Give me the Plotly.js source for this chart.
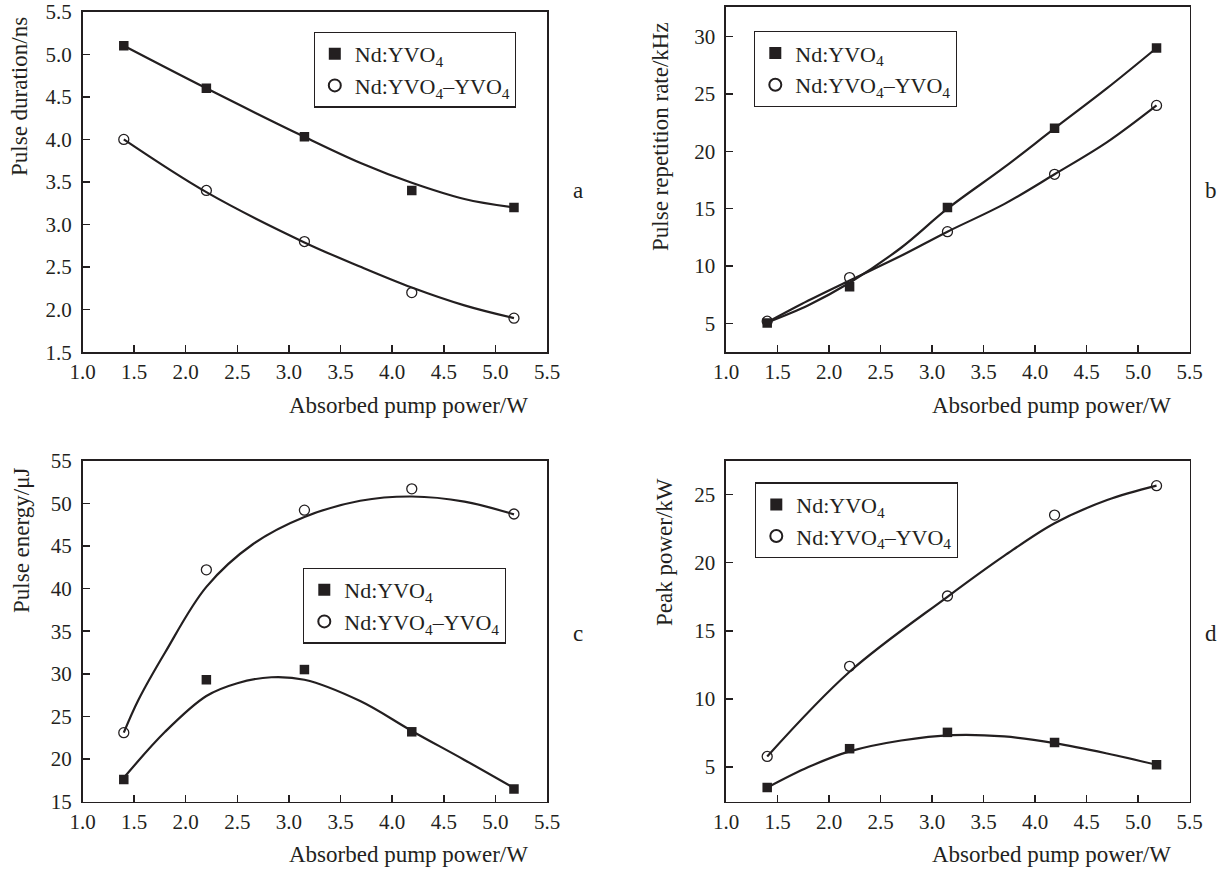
<!DOCTYPE html>
<html>
<head>
<meta charset="utf-8">
<script src="https://cdn.plot.ly/plotly-3.0.1.min.js"></script>
<style>html,body{margin:0;padding:0;background:#fff;}#chart{width:1230px;height:869px;}</style>
</head>
<body>
<div id="chart"></div>
<script>
// ---------- data ----------
const pumpPower = [1.4, 2.2, 3.15, 4.19, 5.18];

// (a) pulse duration, ns
const durYVO4 = [5.1, 4.6, 4.03, 3.4, 3.2];
const durComp = [4.0, 3.4, 2.8, 2.2, 1.9];
const durFitX = [1.4, 2.2, 3.15, 3.7, 4.19, 4.7, 5.18];
const durFitYVO4 = [5.1, 4.6, 4.03, 3.72, 3.49, 3.30, 3.2];
const durFitComp = [4.0, 3.38, 2.79, 2.5, 2.26, 2.05, 1.9];

// (b) pulse repetition rate, kHz
const repYVO4 = [5.05, 8.2, 15.1, 22.0, 29.0];
const repComp = [5.2, 9.0, 13.0, 18.0, 24.0];
const repFitX = [1.4, 1.8, 2.2, 2.7, 3.15, 3.7, 4.19, 4.7, 5.18];
const repFitYVO4 = [5.1, 6.6, 8.55, 11.6, 15.0, 18.6, 22.0, 25.5, 29.0];
const repFitComp = [5.1, 7.0, 8.75, 10.9, 13.0, 15.4, 18.0, 20.8, 24.0];

// (c) pulse energy, uJ
const enYVO4 = [17.6, 29.3, 30.5, 23.2, 16.5];
const enComp = [23.1, 42.2, 49.2, 51.7, 48.75];
const enFitXYVO4 = [1.4, 1.8, 2.2, 2.5, 2.83, 3.15, 3.69, 4.19, 4.7, 5.18];
const enFitYVO4 = [17.8, 23.2, 27.4, 28.9, 29.6, 29.3, 26.8, 23.3, 19.9, 16.6];
const enFitXComp = [1.4, 1.54, 1.8, 2.2, 2.65, 3.15, 3.69, 4.19, 4.7, 5.18];
const enFitComp = [23.1, 26.9, 32.5, 40.2, 45.2, 48.4, 50.3, 50.8, 50.2, 48.7];

// (d) peak power, kW
const pkYVO4 = [3.5, 6.35, 7.55, 6.8, 5.17];
const pkComp = [5.78, 12.4, 17.56, 23.5, 25.66];
const pkFitXYVO4 = [1.4, 1.8, 2.2, 2.7, 3.2, 3.7, 4.19, 4.7, 5.18];
const pkFitYVO4 = [3.49, 5.0, 6.15, 6.95, 7.35, 7.25, 6.76, 6.0, 5.17];
const pkFitXComp = [1.4, 2.2, 3.15, 3.7, 4.19, 4.7, 5.18];
const pkFitComp = [5.78, 12.0, 17.5, 20.5, 22.9, 24.6, 25.66];

const seriesNames = ['Nd:YVO<sub>4</sub>', 'Nd:YVO<sub>4</sub>–YVO<sub>4</sub>'];
const xTitle = 'Absorbed pump power/W';
const yTitles = ['Pulse duration/ns', 'Pulse repetition rate/kHz', 'Pulse energy/μJ', 'Peak power/kW'];
const panelLabels = ['a', 'b', 'c', 'd'];

// ---------- layout helpers ----------
const W = 1230, H = 869;
const INK = '#231f20';
const FONT = '"Liberation Serif", "Times New Roman", serif';
const px = v => v / W;
const py = v => 1 - v / H;

const panels = [
  {xa: 'x',  ya: 'y',  left: 82.5, right: 547,   top: 11.7, bottom: 352.2, yr: [1.5, 5.5],  ytick0: 1.5, ydt: 0.5, yfmt: '.1f',
   fitX1: durFitX, fit1: durFitYVO4, fitX2: durFitX, fit2: durFitComp, d1: durYVO4, d2: durComp,
   leg: {l: 313.5, t: 31.7}, ytitle: {x: 19, y: 97}, lab: {x: 578, y: 190}},
  {xa: 'x2', ya: 'y2', left: 726,  right: 1189.5, top: 6.7,  bottom: 352.2, yr: [2.5, 32.6], ytick0: 5, ydt: 5, yfmt: 'd',
   fitX1: repFitX, fit1: repFitYVO4, fitX2: repFitX, fit2: repFitComp, d1: repYVO4, d2: repComp,
   leg: {l: 754, t: 31}, ytitle: {x: 661, y: 137}, lab: {x: 1211, y: 190}},
  {xa: 'x3', ya: 'y3', left: 82.5, right: 547,   top: 460.7, bottom: 801.7, yr: [15, 55],   ytick0: 15, ydt: 5, yfmt: 'd',
   fitX1: enFitXYVO4, fit1: enFitYVO4, fitX2: enFitXComp, fit2: enFitComp, d1: enYVO4, d2: enComp,
   leg: {l: 303, t: 567.7}, ytitle: {x: 21, y: 541}, lab: {x: 578, y: 633}},
  {xa: 'x4', ya: 'y4', left: 726,  right: 1189.5, top: 460.7, bottom: 801.7, yr: [2.46, 27.49], ytick0: 5, ydt: 5, yfmt: 'd',
   fitX1: pkFitXYVO4, fit1: pkFitYVO4, fitX2: pkFitXComp, fit2: pkFitComp, d1: pkYVO4, d2: pkComp,
   leg: {l: 755, t: 482.3}, ytitle: {x: 664, y: 552}, lab: {x: 1211, y: 633}}
];

const traces = [];
const layout = {
  width: W, height: H,
  margin: {l: 0, r: 0, t: 0, b: 0},
  paper_bgcolor: '#fff', plot_bgcolor: '#fff',
  font: {family: FONT, color: INK, size: 21},
  annotations: [],
  showlegend: true
};

panels.forEach((p, i) => {
  const legendId = i === 0 ? 'legend' : 'legend' + (i + 1);
  const lineStyle = {color: INK, width: 2.2, shape: 'spline', smoothing: 1};
  traces.push({x: p.fitX1, y: p.fit1, xaxis: p.xa, yaxis: p.ya, mode: 'lines', line: lineStyle, showlegend: false, hoverinfo: 'skip'});
  traces.push({x: p.fitX2, y: p.fit2, xaxis: p.xa, yaxis: p.ya, mode: 'lines', line: lineStyle, showlegend: false, hoverinfo: 'skip'});
  traces.push({x: pumpPower, y: p.d1, xaxis: p.xa, yaxis: p.ya, mode: 'markers', name: seriesNames[0], legend: legendId,
    marker: {symbol: 'square', size: 9.5, color: INK, line: {width: 0}}});
  traces.push({x: pumpPower, y: p.d2, xaxis: p.xa, yaxis: p.ya, mode: 'markers', name: seriesNames[1], legend: legendId,
    marker: {symbol: 'circle-open', size: 10, color: INK, line: {width: 1.3, color: INK}}});

  const sfx = i === 0 ? '' : String(i + 1);
  layout['xaxis' + sfx] = {
    domain: [px(p.left), px(p.right)], anchor: p.ya,
    range: [1.0, 5.5], tick0: 1.0, dtick: 0.5, tickformat: '.1f',
    ticks: 'inside', ticklen: 7, tickwidth: 1.5, tickcolor: INK,
    showline: true, linecolor: INK, linewidth: 1.6, mirror: true,
    showgrid: false, zeroline: false, fixedrange: true,
    tickfont: {family: FONT, size: 21, color: INK}, ticklabelstandoff: 0
  };
  layout['yaxis' + sfx] = {
    domain: [py(p.bottom), py(p.top)], anchor: p.xa,
    range: p.yr, tick0: p.ytick0, dtick: p.ydt, tickformat: p.yfmt,
    ticks: 'inside', ticklen: 7, tickwidth: 1.5, tickcolor: INK,
    showline: true, linecolor: INK, linewidth: 1.6, mirror: true,
    showgrid: false, zeroline: false, fixedrange: true,
    tickfont: {family: FONT, size: 21, color: INK}, ticklabelstandoff: 5
  };
  layout[legendId] = {
    x: px(p.leg.l), y: py(p.leg.t), xanchor: 'left', yanchor: 'top',
    xref: 'paper', yref: 'paper',
    bgcolor: '#fff', bordercolor: INK, borderwidth: 1.3,
    font: {family: FONT, size: 22, color: INK},
    tracegroupgap: 0, itemsizing: 'constant'
  };
  // x-axis title (right-shifted as in the reference)
  layout.annotations.push({text: xTitle, xref: 'paper', yref: 'paper',
    x: px(p.right - 17), y: py(p.bottom + 53), xanchor: 'right', yanchor: 'middle',
    showarrow: false, font: {family: FONT, size: 23, color: INK}});
  // y-axis title
  layout.annotations.push({text: yTitles[i], xref: 'paper', yref: 'paper',
    x: px(p.ytitle.x), y: py(p.ytitle.y), xanchor: 'center', yanchor: 'middle', textangle: -90,
    showarrow: false, font: {family: FONT, size: 23, color: INK}});
  // panel letter
  layout.annotations.push({text: panelLabels[i], xref: 'paper', yref: 'paper',
    x: px(p.lab.x), y: py(p.lab.y), xanchor: 'center', yanchor: 'middle',
    showarrow: false, font: {family: FONT, size: 23, color: INK}});
});

Plotly.newPlot('chart', traces, layout, {displayModeBar: false, staticPlot: true});
</script>
</body>
</html>
